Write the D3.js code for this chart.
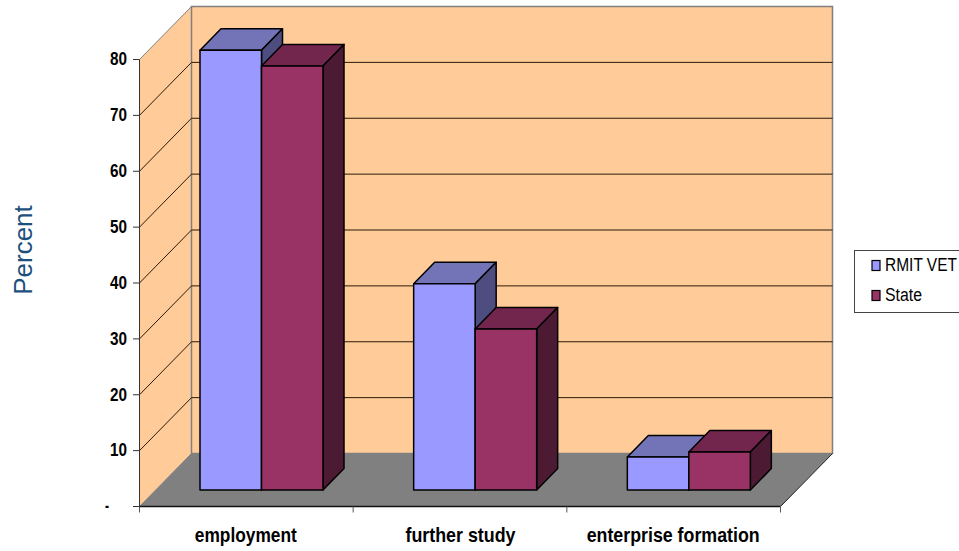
<!DOCTYPE html>
<html>
<head>
<meta charset="utf-8">
<script src="https://cdn.jsdelivr.net/npm/d3@7/dist/d3.min.js"></script>
<style>
  html, body { margin: 0; padding: 0; background: #fff; }
  svg { display: block; }
  text { font-family: "Liberation Sans", Arial, sans-serif; }
</style>
</head>
<body>
<svg id="chart" width="959" height="551"></svg>
<script>
const categories = ["employment", "further study", "enterprise formation"];
const categoryLabelWidths = [102, 110, 173];
const seriesNames = ["RMIT VET", "State"];
const seriesLabelWidths = [72, 37];
const rmitVet = [78.7, 36.9, 5.9];
const state = [75.9, 28.8, 6.8];
const yTicks = [0, 10, 20, 30, 40, 50, 60, 70, 80];
const seriesColors = [
  { front: "#9999ff", top: "#7373b8", side: "#4d4d80" },
  { front: "#993366", top: "#73264d", side: "#4d1a33" }
];

const svg = d3.select("#chart");
const y = d3.scaleLinear().domain([0, 80]).range([506, 59]);
const x = d3.scaleBand().domain(categories).range([139, 780]);
const inner = d3.scaleBand().domain(seriesNames).range([45, 45 + 123]);

// Oblique projection: depth runs up and to the right
const wall = { dx: 52, dy: -53 };
const barFront = { dx: 16, dy: -16 };
const barDepth = { dx: 21, dy: -21.5 };
const pts = a => a.map(p => p.join(",")).join(" ");
const x0 = x.range()[0] + 0.5, x1 = x.range()[1] + 0.5;
const yB = y(0) + 0.5, yT = y(80) + 0.5;

const walls = svg.append("g");
walls.append("polygon")
  .attr("points", pts([[x0, yT], [x0 + wall.dx, yT + wall.dy], [x0 + wall.dx, yB + wall.dy], [x0, yB]]))
  .attr("fill", "#ffcc99").attr("stroke", "#808080").attr("stroke-width", 1);
walls.append("polygon")
  .attr("points", pts([[x0 + wall.dx, yT + wall.dy], [x1 + wall.dx, yT + wall.dy], [x1 + wall.dx, yB + wall.dy], [x0 + wall.dx, yB + wall.dy]]))
  .attr("fill", "#ffcc99").attr("stroke", "#808080").attr("stroke-width", 1.5);
walls.append("polygon")
  .attr("points", pts([[x0, yB], [x1, yB], [x1 + wall.dx, yB + wall.dy], [x0 + wall.dx, yB + wall.dy]]))
  .attr("fill", "#808080");
walls.append("path")
  .attr("d", `M${x1},${yB}L${x1 + wall.dx},${yB + wall.dy}`)
  .attr("stroke", "#222").attr("fill", "none");

// Gridlines wrap from the left wall across the back wall
const grid = svg.append("g").attr("fill", "none").attr("stroke", "#2b1a08").attr("stroke-width", 1);
yTicks.filter(d => d > 0 && d < 80).forEach(d => {
  const gy = y(d) + 0.5;
  grid.append("path")
    .attr("d", `M${x0},${gy}L${x0 + wall.dx},${gy + wall.dy}L${x1 + wall.dx},${gy + wall.dy}`);
});

// Bars, drawn left to right so each one overlaps the side of its neighbour
const bars = svg.append("g").attr("stroke", "#000").attr("stroke-width", 1.5).attr("stroke-linejoin", "round");
categories.forEach((c, i) => {
  [rmitVet, state].forEach((vals, s) => {
    const xa = x(c) + inner(seriesNames[s]) + barFront.dx;
    const xb = xa + inner.bandwidth();
    const b = y(0) + barFront.dy;
    const t = y(vals[i]) + barFront.dy;
    const col = seriesColors[s];
    bars.append("polygon").attr("fill", col.top)
      .attr("points", pts([[xa, t], [xa + barDepth.dx, t + barDepth.dy], [xb + barDepth.dx, t + barDepth.dy], [xb, t]]));
    bars.append("polygon").attr("fill", col.side)
      .attr("points", pts([[xb, t], [xb + barDepth.dx, t + barDepth.dy], [xb + barDepth.dx, b + barDepth.dy], [xb, b]]));
    bars.append("rect").attr("fill", col.front)
      .attr("x", xa).attr("y", t).attr("width", xb - xa).attr("height", b - t);
  });
});

// Value axis
const yAxis = svg.append("g").attr("transform", `translate(${x.range()[0]},0)`)
  .call(d3.axisLeft(y).tickValues(yTicks).tickSize(6).tickPadding(6)
    .tickFormat(d => d === 0 ? "-" : d));
yAxis.selectAll("path,line").attr("stroke", "#333");
yAxis.selectAll("text")
  .attr("font-size", 18).attr("font-weight", "bold").attr("fill", "#000")
  .attr("textLength", d => d === 0 ? 4 : 17)
  .attr("lengthAdjust", "spacingAndGlyphs")
  .attr("x", d => d === 0 ? -30 : -12)
  .attr("y", 0);

// Category axis with ticks on the band edges
const xAxis = svg.append("g").attr("transform", `translate(0,${yB})`);
xAxis.append("line").attr("x1", x0).attr("x2", x1).attr("stroke", "#111").attr("stroke-width", 1.5);
[...categories.map(c => x(c)), x.range()[1]].forEach(px => {
  xAxis.append("line").attr("x1", px + 0.5).attr("x2", px + 0.5).attr("y1", 0).attr("y2", 6).attr("stroke", "#555");
});
xAxis.selectAll("text.cat").data(categories).join("text")
  .attr("class", "cat")
  .attr("x", d => x(d) + x.bandwidth() / 2 + (d === "further study" ? 1 : 0))
  .attr("y", 35.5)
  .attr("text-anchor", "middle")
  .attr("font-size", 21)
  .attr("font-weight", "bold")
  .attr("fill", "#000")
  .attr("textLength", (d, i) => categoryLabelWidths[i])
  .attr("lengthAdjust", "spacingAndGlyphs")
  .text(d => d);

svg.append("text")
  .attr("transform", "translate(32,250) rotate(-90)")
  .attr("text-anchor", "middle")
  .attr("font-size", 26)
  .attr("fill", "#1c4f7c")
  .text("Percent");

// Legend: labels are condensed horizontally to the narrow face
const legend = svg.append("g");
legend.append("rect").attr("x", 854.5).attr("y", 250.5).attr("width", 110).attr("height", 62)
  .attr("fill", "#fff").attr("stroke", "#444");
seriesNames.forEach((n, i) => {
  const ly = 260 + i * 30;
  legend.append("rect").attr("x", 872).attr("y", ly + 0.5).attr("width", 8).attr("height", 10)
    .attr("fill", seriesColors[i].front).attr("stroke", "#000").attr("stroke-width", 1.2);
  const label = legend.append("text")
    .attr("font-size", 19).attr("fill", "#000").text(n);
  const k = seriesLabelWidths[i] / label.node().getComputedTextLength();
  label.attr("transform", `translate(885,${ly + 11}) scale(${k},1)`);
});
</script>
</body>
</html>
